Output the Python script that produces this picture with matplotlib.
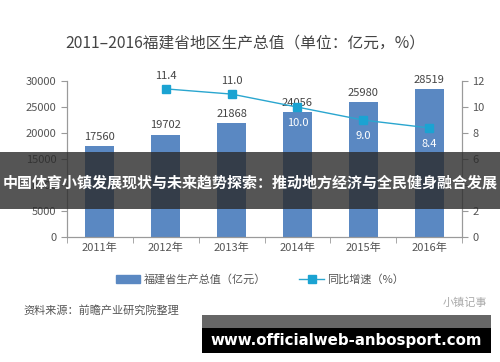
import matplotlib
matplotlib.use('Agg')
import matplotlib.pyplot as plt
import numpy as np
from matplotlib.patches import Patch
from matplotlib.lines import Line2D

plt.rcParams['font.family'] = ['Noto Sans CJK SC', 'DejaVu Sans']

# ── Data ─────────────────────────────────────────────────────────
YEARS      = ['2011年', '2012年', '2013年', '2014年', '2015年', '2016年']
GDP        = [17560, 19702, 21868, 24056, 25980, 28519]
GROWTH_IDX = [1, 2, 3, 4, 5]
GROWTH     = [11.4, 11.0, 10.0, 9.0, 8.4]
GROWTH_POS = ['above', 'above', 'below', 'below', 'below']
LEFT_TICKS  = [0, 5000, 10000, 15000, 20000, 25000, 30000]
RIGHT_TICKS = [0, 2, 4, 6, 8, 10, 12]

BAR_COLOR  = '#5A88C2'
LINE_COLOR = '#2AA6CF'
TEXT_GRAY  = '#555555'
AXIS_GRAY  = '#9A9A9A'

fig = plt.figure(figsize=(5.0, 3.62), dpi=100)
fig.patch.set_facecolor('white')

ax = fig.add_axes([0.134, 0.345, 0.79, 0.431])
ax2 = ax.twinx()

x = np.arange(len(YEARS))
ax.bar(x, GDP, width=0.44, color=BAR_COLOR, zorder=2)
for xi, v in zip(x, GDP):
    ax.annotate(f'{v}', (xi, v), xytext=(0, 3), textcoords='offset points',
                ha='center', va='bottom', fontsize=8, color='#444444')

ax.set_xlim(-0.5, len(YEARS) - 0.5)
ax.set_ylim(0, 30000)
ax.set_yticks(LEFT_TICKS)
ax.set_xticks(x)
ax.set_xticklabels(YEARS)
ax.set_xticks(np.arange(-0.5, len(YEARS)), minor=True)
ax.tick_params(axis='x', which='major', length=0, labelsize=8,
               labelcolor=TEXT_GRAY, pad=4)
ax.tick_params(axis='x', which='minor', length=4, color=AXIS_GRAY)
ax.tick_params(axis='y', labelsize=8, labelcolor=TEXT_GRAY,
               color=AXIS_GRAY, length=4)

gx = [x[i] for i in GROWTH_IDX]
ax2.plot(gx, GROWTH, color=LINE_COLOR, lw=1.0, marker='s', ms=6,
         mfc='#1BA3D2', mec='#1BA3D2', zorder=3)
for xi, v, pos in zip(gx, GROWTH, GROWTH_POS):
    if pos == 'above':
        ax2.annotate(f'{v:.1f}', (xi, v), xytext=(0, 6),
                     textcoords='offset points', ha='center', va='bottom',
                     fontsize=8, color='#444444')
    else:
        ax2.annotate(f'{v:.1f}', (xi, v), xytext=(0, -8),
                     textcoords='offset points', ha='center', va='top',
                     fontsize=8, color='white')
ax2.set_ylim(0, 12)
ax2.set_yticks(RIGHT_TICKS)
ax2.tick_params(axis='y', labelsize=8, labelcolor=TEXT_GRAY,
                color=AXIS_GRAY, length=4)

for a in (ax, ax2):
    a.spines['top'].set_visible(False)
    for s in ('left', 'right', 'bottom'):
        a.spines[s].set_color(AXIS_GRAY)
        a.spines[s].set_linewidth(0.8)

# ── Title, legend, source ────────────────────────────────────────
fig.text(0.49, 0.881, '2011–2016福建省地区生产总值（单位：亿元，%）',
         ha='center', va='center', fontsize=11.3, color='#444444')

handles = [
    Patch(color=BAR_COLOR, label='福建省生产总值（亿元）'),
    Line2D([0], [0], color=LINE_COLOR, lw=1.0, marker='s', ms=6,
           mfc='#1BA3D2', mec='#1BA3D2', label='同比增速（%）'),
]
fig.legend(handles=handles, loc='center', bbox_to_anchor=(0.52, 0.229),
           ncol=2, frameon=False, fontsize=8, labelcolor=TEXT_GRAY,
           handlelength=2.2, columnspacing=3.0, handletextpad=0.3)

fig.text(0.046, 0.143, '资料来源：前瞻产业研究院整理', ha='left', va='center',
         fontsize=8, color='#555555')
fig.text(0.975, 0.163, '小镇记事', ha='right', va='center',
         fontsize=8, color='#AAAAAA')

# ── Overlay banner ───────────────────────────────────────────────
fig.patches.append(plt.Rectangle((0, 0.423), 1, 0.158,
                                 transform=fig.transFigure,
                                 facecolor='#2B2B2B', alpha=0.8,
                                 zorder=10))
fig.text(0.5, 0.495,
         '中国体育小镇发展现状与未来趋势探索：推动地方经济与全民健身融合发展',
         ha='center', va='center', fontsize=10.8, color='white',
         fontweight='bold', zorder=11)

# ── Bottom url box ───────────────────────────────────────────────
fig.patches.append(plt.Rectangle((0.404, 0.094), 0.578, 0.036,
                                 transform=fig.transFigure,
                                 facecolor='#666666', zorder=10))
fig.patches.append(plt.Rectangle((0.404, 0.025), 0.578, 0.069,
                                 transform=fig.transFigure,
                                 facecolor='black', zorder=10))
fig.text(0.692, 0.06, 'www.officialweb-anbosport.com', ha='center',
         va='center', fontsize=10.8, color='white', fontweight='bold',
         family='DejaVu Sans', zorder=11)

fig.savefig('out.png', dpi=100)
